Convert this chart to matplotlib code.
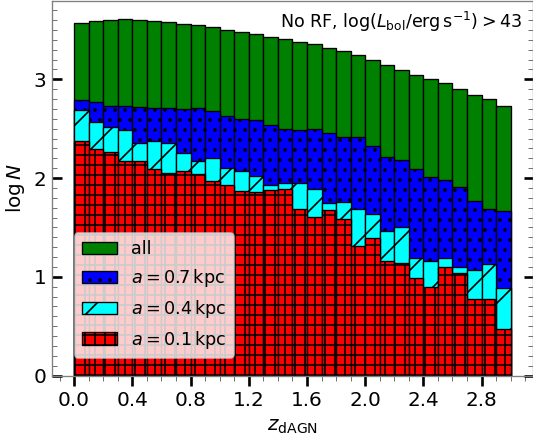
import numpy as np
import matplotlib
matplotlib.use("Agg")
import matplotlib.pyplot as plt
from matplotlib.ticker import MultipleLocator

# redshift bins, width 0.1 from 0.0 to 3.0
z_edges = np.round(np.arange(0.0, 3.01, 0.1), 2)

# log N per bin
logN_all = [3.568, 3.588, 3.598, 3.612, 3.598, 3.595, 3.578, 3.558, 3.555, 3.528,
            3.504, 3.484, 3.460, 3.430, 3.404, 3.379, 3.355, 3.318, 3.291, 3.247,
            3.193, 3.143, 3.092, 3.045, 3.001, 2.960, 2.899, 2.839, 2.801, 2.730]
logN_07 = [2.795, 2.768, 2.730, 2.732, 2.717, 2.707, 2.707, 2.698, 2.707, 2.680,
           2.624, 2.600, 2.590, 2.538, 2.495, 2.487, 2.494, 2.454, 2.413, 2.413,
           2.325, 2.217, 2.183, 2.092, 2.014, 1.981, 1.907, 1.771, 1.684, 1.665]
logN_04 = [2.693, 2.572, 2.513, 2.483, 2.352, 2.379, 2.352, 2.257, 2.176, 2.202,
           2.097, 2.067, 2.026, 1.928, 1.950, 1.947, 1.890, 1.745, 1.761, 1.687,
           1.636, 1.467, 1.501, 1.187, 1.163, 1.187, 1.099, 1.069, 1.130, 0.890]
logN_01 = [2.376, 2.292, 2.261, 2.173, 2.173, 2.092, 2.049, 2.072, 2.038, 1.974,
           1.927, 1.866, 1.859, 1.879, 1.887, 1.684, 1.603, 1.677, 1.586, 1.315,
           1.390, 1.163, 1.137, 0.988, 0.893, 1.102, 1.035, 0.772, 0.772, 0.468]

labels = ["all", r"$a = 0.7\,{\rm kpc}$", r"$a = 0.4\,{\rm kpc}$", r"$a = 0.1\,{\rm kpc}$"]
colors = ["green", "blue", "cyan", "red"]
hatches = [None, "..", "/", "++"]

DPI = 120
fig = plt.figure(figsize=(533 / DPI, 439 / DPI), dpi=DPI)
ax = fig.add_axes([0.0981, 0.1446, 0.901, 0.853])

left = z_edges[:-1]
width = np.diff(z_edges)
# overlapping bars, widest sample at the back
for vals, col, hat, lab in zip([logN_all, logN_07, logN_04, logN_01], colors, hatches, labels):
    ax.bar(left, vals, width=width, align="edge", color=col, edgecolor="black",
           linewidth=0.8, hatch=hat, label=lab)

ax.set_xlim(-0.15, 3.15)
ax.set_ylim(0, 3.793)

ax.xaxis.set_major_locator(MultipleLocator(0.4))
ax.xaxis.set_minor_locator(MultipleLocator(0.1))
ax.yaxis.set_major_locator(MultipleLocator(1))
ax.yaxis.set_minor_locator(MultipleLocator(0.1))
ax.xaxis.set_major_formatter(matplotlib.ticker.FormatStrFormatter("%.1f"))

ax.tick_params(axis="y", which="both", direction="in", left=True, right=True)
ax.tick_params(axis="x", which="both", direction="out", top=False)
ax.tick_params(which="major", length=5.7, width=1.6, color="black", labelsize=12)
ax.tick_params(which="minor", length=3.0, width=0.6, color="0.45")

for sp in ax.spines.values():
    sp.set_color("0.5")
    sp.set_linewidth(0.8)

ax.set_xlabel(r"$z_{\rm dAGN}$", fontsize=12)
ax.set_ylabel(r"$\log N$", fontsize=12)

ax.text(0.979, 0.928, r"No RF, $\log(L_{\rm bol}/{\rm erg\,s^{-1}})>43$",
        transform=ax.transAxes, ha="right", va="baseline", fontsize=10.5)

ax.legend(loc="lower left", bbox_to_anchor=(0.047, 0.047), borderaxespad=0,
          fontsize=10.6)

fig.savefig("out.png", dpi=DPI)
